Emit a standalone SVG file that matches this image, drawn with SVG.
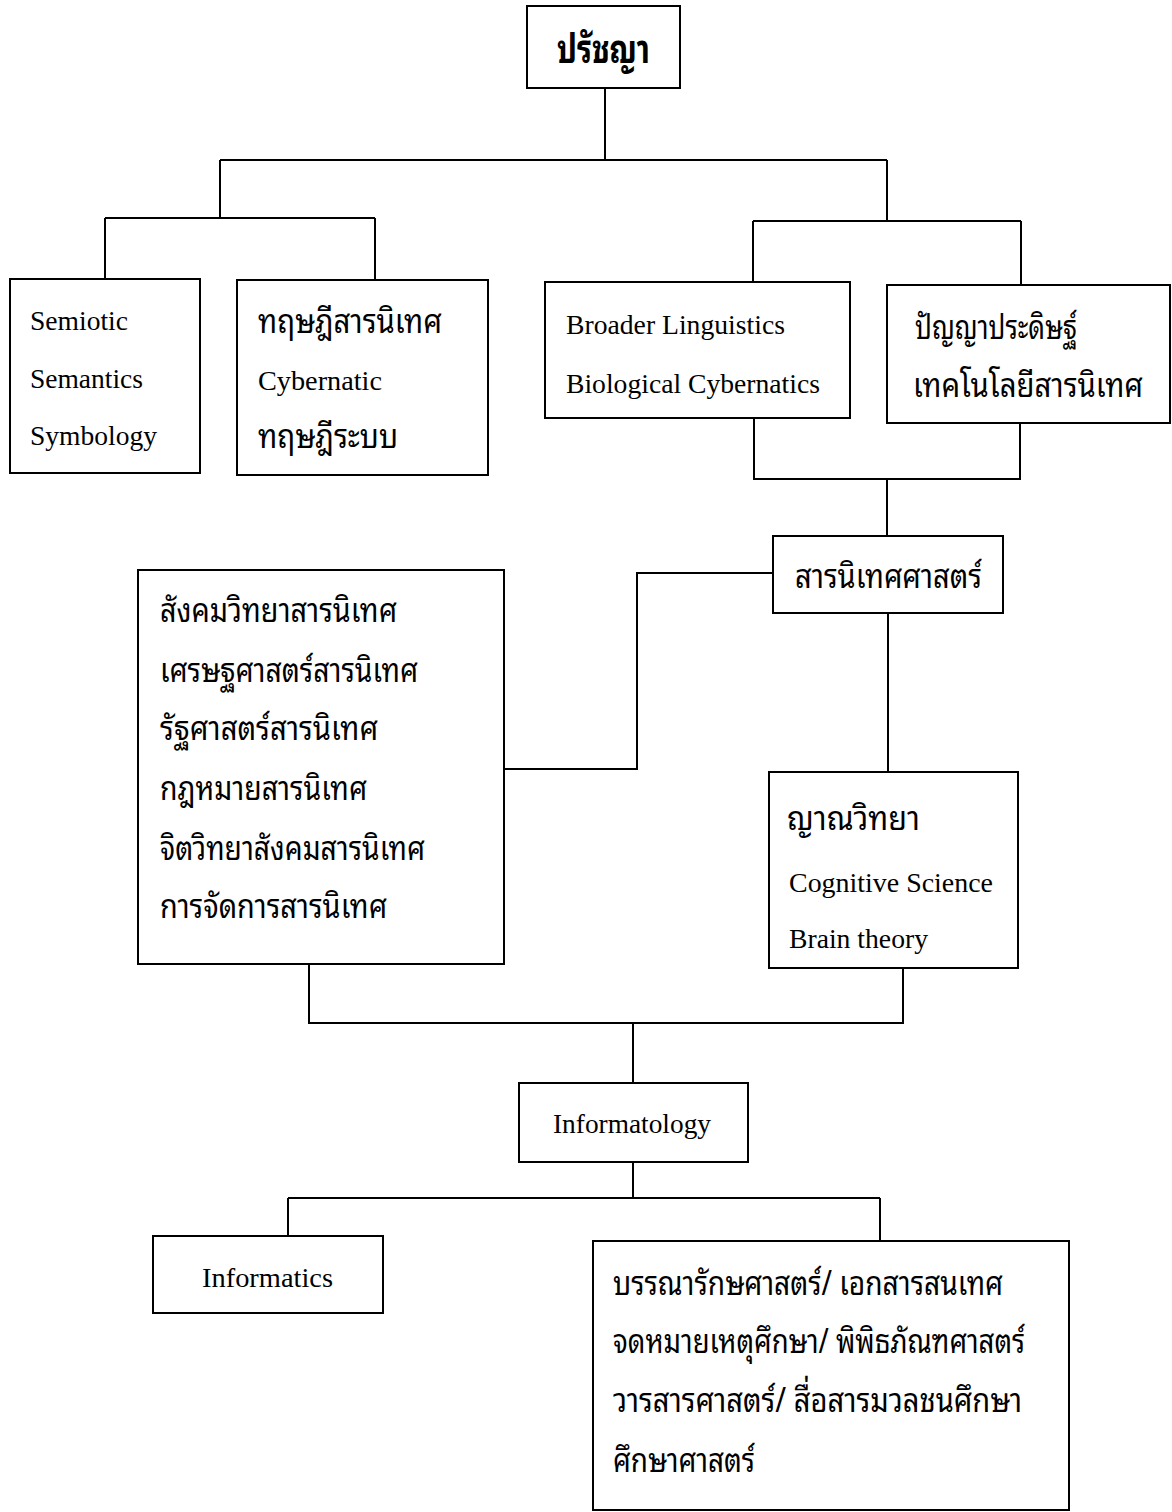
<svg xmlns="http://www.w3.org/2000/svg" width="1172" height="1512" viewBox="0 0 1172 1512">
<style>
.box{fill:#fff;stroke:#000;stroke-width:2}
.ln{fill:none;stroke:#000;stroke-width:2}
.en{font-family:"Liberation Serif","Times New Roman",serif;font-size:27px;fill:#000}
.th{font-family:"Noto Sans Thai Looped","Noto Serif Thai","Norasi","Garuda","Loma","Noto Sans Thai","Noto Sans",sans-serif;font-size:34px;fill:#000}
.big{font-size:40px;font-weight:bold}
</style>
<rect width="1172" height="1512" fill="#fff"/>
<g id="connectors">
<path class="ln" d="M605 88V160M220 160H887M220 160V218M105 218H375M105 218V279M375 218V280"/>
<path class="ln" d="M887 160V221M753 221H1021M753 221V282M1021 221V285"/>
<path class="ln" d="M754 418V479H1020V423M887 479V536"/>
<path class="ln" d="M773 573H637V769H504"/>
<path class="ln" d="M888 613V772"/>
<path class="ln" d="M309 964V1023H903V968M633 1023V1083"/>
<path class="ln" d="M633 1162V1198M288 1198H880M288 1198V1236M880 1198V1241"/>
</g>
<g id="n-philosophy">
<rect class="box" x="527" y="6" width="153" height="82"/>
<text class="th big" x="557" y="63" textLength="93" lengthAdjust="spacingAndGlyphs">ปรัชญา</text>
</g>
<g id="n-semiotic">
<rect class="box" x="10" y="279" width="190" height="194"/>
<text class="en" x="30" y="330" textLength="98" lengthAdjust="spacingAndGlyphs">Semiotic</text>
<text class="en" x="30" y="388" textLength="113" lengthAdjust="spacingAndGlyphs">Semantics</text>
<text class="en" x="30" y="445" textLength="127" lengthAdjust="spacingAndGlyphs">Symbology</text>
</g>
<g id="n-infotheory">
<rect class="box" x="237" y="280" width="251" height="195"/>
<text class="th" x="258" y="333" textLength="184" lengthAdjust="spacingAndGlyphs">ทฤษฎีสารนิเทศ</text>
<text class="en" x="258" y="390" textLength="124" lengthAdjust="spacingAndGlyphs">Cybernatic</text>
<text class="th" x="258" y="448" textLength="140" lengthAdjust="spacingAndGlyphs">ทฤษฎีระบบ</text>
</g>
<g id="n-linguistics">
<rect class="box" x="545" y="282" width="305" height="136"/>
<text class="en" x="566" y="334" textLength="219" lengthAdjust="spacingAndGlyphs">Broader Linguistics</text>
<text class="en" x="566" y="393" textLength="254" lengthAdjust="spacingAndGlyphs">Biological Cybernatics</text>
</g>
<g id="n-ai">
<rect class="box" x="887" y="285" width="283" height="138"/>
<text class="th" x="915" y="339" textLength="162" lengthAdjust="spacingAndGlyphs">ปัญญาประดิษฐ์</text>
<text class="th" x="913" y="397" textLength="230" lengthAdjust="spacingAndGlyphs">เทคโนโลยีสารนิเทศ</text>
</g>
<g id="n-infoscience">
<rect class="box" x="773" y="536" width="230" height="77"/>
<text class="th" x="795" y="588" textLength="187" lengthAdjust="spacingAndGlyphs">สารนิเทศศาสตร์</text>
</g>
<g id="n-social">
<rect class="box" x="138" y="570" width="366" height="394"/>
<text class="th" x="160" y="622" textLength="237" lengthAdjust="spacingAndGlyphs">สังคมวิทยาสารนิเทศ</text>
<text class="th" x="160" y="682" textLength="258" lengthAdjust="spacingAndGlyphs">เศรษฐศาสตร์สารนิเทศ</text>
<text class="th" x="160" y="740" textLength="218" lengthAdjust="spacingAndGlyphs">รัฐศาสตร์สารนิเทศ</text>
<text class="th" x="160" y="800" textLength="207" lengthAdjust="spacingAndGlyphs">กฎหมายสารนิเทศ</text>
<text class="th" x="160" y="860" textLength="265" lengthAdjust="spacingAndGlyphs">จิตวิทยาสังคมสารนิเทศ</text>
<text class="th" x="160" y="918" textLength="227" lengthAdjust="spacingAndGlyphs">การจัดการสารนิเทศ</text>
</g>
<g id="n-epistemology">
<rect class="box" x="769" y="772" width="249" height="196"/>
<text class="th" x="787" y="830" textLength="133" lengthAdjust="spacingAndGlyphs">ญาณวิทยา</text>
<text class="en" x="789" y="892" textLength="204" lengthAdjust="spacingAndGlyphs">Cognitive Science</text>
<text class="en" x="789" y="948" textLength="139" lengthAdjust="spacingAndGlyphs">Brain theory</text>
</g>
<g id="n-informatology">
<rect class="box" x="519" y="1083" width="229" height="79"/>
<text class="en" x="553" y="1133" textLength="158" lengthAdjust="spacingAndGlyphs">Informatology</text>
</g>
<g id="n-informatics">
<rect class="box" x="153" y="1236" width="230" height="77"/>
<text class="en" x="202" y="1287" textLength="131" lengthAdjust="spacingAndGlyphs">Informatics</text>
</g>
<g id="n-fields">
<rect class="box" x="593" y="1241" width="476" height="269"/>
<text class="th" x="613" y="1295" textLength="390" lengthAdjust="spacingAndGlyphs">บรรณารักษศาสตร์/ เอกสารสนเทศ</text>
<text class="th" x="613" y="1353" textLength="412" lengthAdjust="spacingAndGlyphs">จดหมายเหตุศึกษา/ พิพิธภัณฑศาสตร์</text>
<text class="th" x="613" y="1412" textLength="409" lengthAdjust="spacingAndGlyphs">วารสารศาสตร์/ สื่อสารมวลชนศึกษา</text>
<text class="th" x="613" y="1472" textLength="142" lengthAdjust="spacingAndGlyphs">ศึกษาศาสตร์</text>
</g>
</svg>
